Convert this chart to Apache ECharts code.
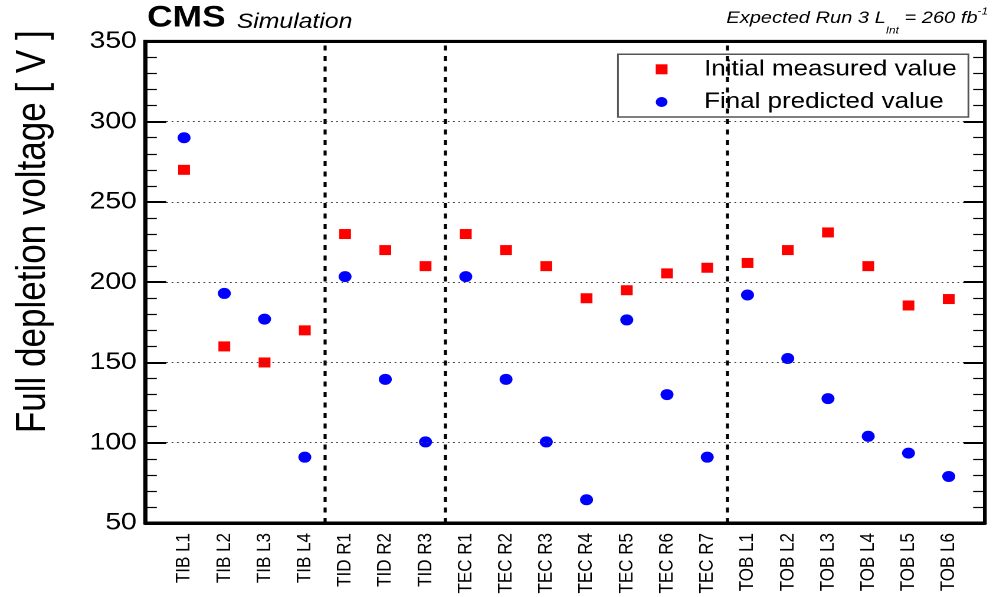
<!DOCTYPE html>
<html>
<head>
<meta charset="utf-8">
<title>Full depletion voltage</title>
<script src="https://cdn.jsdelivr.net/npm/echarts@6/dist/echarts.min.js"></script>
<style>
  html, body { margin: 0; padding: 0; background: #fff; overflow: hidden; }
  /* the figure is laid out on a narrower canvas and widened horizontally */
  #chart { width: 848px; height: 597px; transform: scaleX(1.18); transform-origin: 0 0; }
</style>
</head>
<body>
<div id="chart"></div>
<script>
// Tracker layers / rings
const categories = [
  'TIB L1', 'TIB L2', 'TIB L3', 'TIB L4',
  'TID R1', 'TID R2', 'TID R3',
  'TEC R1', 'TEC R2', 'TEC R3', 'TEC R4', 'TEC R5', 'TEC R6', 'TEC R7',
  'TOB L1', 'TOB L2', 'TOB L3', 'TOB L4', 'TOB L5', 'TOB L6'
];
// Full depletion voltage [V]
const initialMeasured = [270, 160, 150, 170, 230, 220, 210, 230, 220, 210, 190, 195, 205.5, 209, 212, 220, 231, 210, 185.5, 189.5];
const finalPredicted  = [290, 193, 177, 91, 203.5, 139.5, 100.5, 203.5, 139.5, 100.5, 64.5, 176.5, 130, 91, 192, 152.5, 127.5, 104, 93.5, 79];
// Boundaries between sub-detectors (in category units)
const separators = [3.5, 6.5, 13.5];
const yMin = 50, yMax = 350, yStep = 50;

const FONT = "'Liberation Sans', Arial, Helvetica, sans-serif";
const xMin = -0.97, xMax = 19.9;
const labelPositions = categories.map((_, i) => i);

const chart = echarts.init(document.getElementById('chart'), null, { renderer: 'canvas', devicePixelRatio: 2 });

const yAxisCommon = {
  type: 'value', min: yMin, max: yMax, interval: yStep, z: 10,
  axisLine: { show: true, onZero: false, lineStyle: { color: '#000', width: 3 } },
  axisTick: { show: true, inside: true, length: 18, lineStyle: { color: '#000', width: 2 } },
  minorTick: { show: true, splitNumber: 5, length: 10, lineStyle: { color: '#000', width: 1.2 } }
};

chart.setOption({
  animation: false,
  backgroundColor: '#fff',
  textStyle: { fontFamily: FONT },
  grid: {
    left: 122.9, right: 13.3, top: 41.4, bottom: 74, containLabel: false, outerBoundsMode: 'none',
    show: true, backgroundColor: 'rgba(0,0,0,0)', borderColor: '#000', borderWidth: 3
  },
  title: [
    {
      text: 'CMS', left: 124.6, top: 3, padding: 0,
      textStyle: { fontFamily: FONT, fontWeight: 'bold', fontSize: 30, color: '#000', lineHeight: 30 }
    },
    {
      text: 'Simulation', left: 200.6, top: 11.5, padding: 0,
      textStyle: { fontFamily: FONT, fontWeight: 'normal', fontStyle: 'italic', fontSize: 21, color: '#000', lineHeight: 21 }
    },
    {
      text: '{m|Expected Run 3 L}{sub|Int}{m| = 260 fb}{sup|-1}',
      right: 10.7, top: 0.8, padding: 0,
      textStyle: {
        fontFamily: FONT, fontWeight: 'normal', fontStyle: 'italic', fontSize: 17, color: '#000',
        rich: {
          m: { fontFamily: FONT, fontWeight: 'normal', fontStyle: 'italic', fontSize: 17, color: '#000', lineHeight: 20, verticalAlign: 'middle' },
          sub: { fontFamily: FONT, fontWeight: 'normal', fontStyle: 'italic', fontSize: 10, color: '#000', verticalAlign: 'middle', padding: [25, 0, 0, 0] },
          sup: { fontFamily: FONT, fontWeight: 'normal', fontStyle: 'italic', fontSize: 10, color: '#000', verticalAlign: 'middle', padding: [0, 0, 13, 0] }
        }
      }
    }
  ],
  legend: {
    left: 523.7, top: 54.3, orient: 'vertical',
    padding: [3, 10, 3, 32], itemGap: 8.7,
    itemWidth: 10, itemHeight: 10,
    backgroundColor: '#fff', borderColor: '#555', borderWidth: 1.5, borderRadius: 0,
    selectedMode: false,
    textStyle: { fontFamily: FONT, fontSize: 22, color: '#000', lineHeight: 24, padding: [0, 0, 0, 26] },
    data: [
      { name: 'Initial measured value', icon: 'rect' },
      { name: 'Final predicted value', icon: 'circle' }
    ]
  },
  xAxis: [
    {
      type: 'value', position: 'bottom', min: xMin, max: xMax, z: 10,
      axisLine: { show: true, onZero: false, lineStyle: { color: '#000', width: 3 } },
      axisTick: { show: false },
      splitLine: { show: false },
      axisLabel: {
        customValues: labelPositions,
        rotate: 90, margin: 10,
        fontFamily: FONT, fontSize: 17, color: '#000',
        formatter: v => categories[Math.round(v)] || ''
      }
    },
    {
      type: 'value', position: 'top', min: xMin, max: xMax, z: 10,
      axisLine: { show: true, onZero: false, lineStyle: { color: '#000', width: 3 } },
      axisTick: { show: false }, axisLabel: { show: false }, splitLine: { show: false }
    }
  ],
  yAxis: [
    Object.assign({}, yAxisCommon, {
      position: 'left',
      name: 'Full depletion voltage [ V ]',
      nameLocation: 'middle', nameRotate: 90, nameGap: 77,
      nameTextStyle: { fontFamily: FONT, fontSize: 35, color: '#000', padding: [0, 0, 0, 101] },
      axisLabel: { margin: 7, fontFamily: FONT, fontSize: 24, color: '#000' },
      splitLine: { show: true, lineStyle: { color: '#444', width: 1, type: [1.5, 3] } }
    }),
    Object.assign({}, yAxisCommon, {
      position: 'right',
      axisLabel: { show: false },
      splitLine: { show: false }
    })
  ],
  series: [
    {
      name: 'Initial measured value', type: 'scatter',
      symbol: 'rect', symbolSize: 10,
      itemStyle: { color: '#ff0000', opacity: 1 },
      data: initialMeasured.map((v, i) => [i, v]),
      z: 3,
      markLine: {
        silent: true, symbol: 'none', label: { show: false },
        lineStyle: { color: '#000', width: 2.6, type: [5, 5.5] },
        data: separators.map(x => ({ xAxis: x }))
      }
    },
    {
      name: 'Final predicted value', type: 'scatter',
      symbol: 'circle', symbolSize: 11,
      itemStyle: { color: '#0000ff', opacity: 1 },
      data: finalPredicted.map((v, i) => [i, v]),
      z: 3
    }
  ]
});
</script>
</body>
</html>
